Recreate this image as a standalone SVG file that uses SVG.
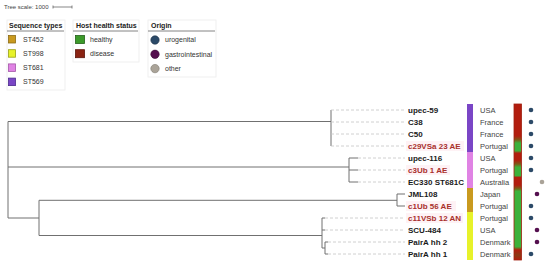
<svg xmlns="http://www.w3.org/2000/svg" width="550" height="265" viewBox="0 0 550 265">
<defs>
<style>
text{font-family:"Liberation Sans",Arial,sans-serif}
.ttl{font-size:7px;font-weight:bold;fill:#222}
.itm{font-size:7px;fill:#333}
.box{fill:#fff;stroke:#ececec;stroke-width:0.8}
.ul{stroke:#666;stroke-width:0.8}
.br{stroke:#707070;stroke-width:1;fill:none}
.ld{stroke:#c4c4c4;stroke-width:0.8;stroke-dasharray:3,2}
.lb{font-size:8px;font-weight:bold;fill:#1a1a1a}
.lr{font-size:8px;font-weight:bold;fill:#a8302c}
.hl{fill:#fef2f5}
.ct{font-size:7.5px;fill:#444}
.uro{fill:#2c4a68}
.gas{fill:#55104f}
.oth{fill:#aaa398}
</style>
<linearGradient id="hg" gradientUnits="userSpaceOnUse" x1="0" y1="104" x2="0" y2="260">
<stop offset="0" stop-color="#b21d0e"/>
<stop offset="0.205" stop-color="#b21d0e"/>
<stop offset="0.23" stop-color="#7c5a18"/>
<stop offset="0.25" stop-color="#3cb13a"/>
<stop offset="0.30" stop-color="#3cb13a"/>
<stop offset="0.315" stop-color="#b21d0e"/>
<stop offset="0.36" stop-color="#b21d0e"/>
<stop offset="0.385" stop-color="#7c5a18"/>
<stop offset="0.405" stop-color="#3cb13a"/>
<stop offset="0.46" stop-color="#3cb13a"/>
<stop offset="0.47" stop-color="#b21d0e"/>
<stop offset="0.52" stop-color="#b21d0e"/>
<stop offset="0.54" stop-color="#7c5a18"/>
<stop offset="0.56" stop-color="#3cb13a"/>
<stop offset="0.915" stop-color="#3cb13a"/>
<stop offset="0.935" stop-color="#b21d0e"/>
<stop offset="0.97" stop-color="#8a3a14"/>
<stop offset="1" stop-color="#b21d0e"/>
</linearGradient>
</defs>
<rect width="550" height="265" fill="#fff"/>

<g id="tree-scale">
<text x="4" y="8.8" style="font-size:6px;fill:#444">Tree scale: 1000</text>
<path d="M53 7H72M53 5.5V8.5M72 5.5V8.5" stroke="#555" stroke-width="0.7" fill="none"/>
</g>

<g id="legend-sequence-types">
<rect class="box" x="7" y="20" width="58" height="70"/>
<text class="ttl" x="9" y="27.5">Sequence types</text>
<line class="ul" x1="7" y1="31" x2="64" y2="31"/>
<rect x="8.5" y="35.5" width="7" height="7.5" fill="#c99a1f" stroke="#8d6c14" stroke-width="0.8"/>
<text class="itm" x="23" y="41.5">ST452</text>
<rect x="8.5" y="49.7" width="7" height="7.5" fill="#e7f22a" stroke="#9aa114" stroke-width="0.8"/>
<text class="itm" x="23" y="55.8">ST998</text>
<rect x="8.5" y="63.9" width="7" height="7.5" fill="#e083e4" stroke="#a356a8" stroke-width="0.8"/>
<text class="itm" x="23" y="70">ST681</text>
<rect x="8.5" y="78.1" width="7" height="7.5" fill="#7a46c6" stroke="#4c2b8e" stroke-width="0.8"/>
<text class="itm" x="23" y="84.2">ST569</text>
</g>

<g id="legend-host-health">
<rect class="box" x="73" y="20" width="66" height="42"/>
<text class="ttl" x="76" y="27.5">Host health status</text>
<line class="ul" x1="73" y1="31" x2="138" y2="31"/>
<rect x="75.5" y="35.5" width="9" height="8" fill="#3c9a2a" stroke="#24601a" stroke-width="0.8"/>
<text class="itm" x="90" y="41.5">healthy</text>
<rect x="75.5" y="49.7" width="9" height="8" fill="#8a2312" stroke="#5a140a" stroke-width="0.8"/>
<text class="itm" x="90" y="55.8">disease</text>
</g>

<g id="legend-origin">
<rect class="box" x="148" y="20" width="68" height="57"/>
<text class="ttl" x="151" y="27.5">Origin</text>
<line class="ul" x1="148" y1="31" x2="215" y2="31"/>
<circle cx="155" cy="40" r="4.2" class="uro" stroke="#1c3046" stroke-width="0.6"/>
<text class="itm" x="165" y="42.3">urogenital</text>
<circle cx="155" cy="54.3" r="4.2" class="gas" stroke="#380a34" stroke-width="0.6"/>
<text class="itm" x="165" y="56.6">gastrointestinal</text>
<circle cx="155" cy="68.6" r="4.2" class="oth" stroke="#7e786e" stroke-width="0.6"/>
<text class="itm" x="165" y="70.9">other</text>
</g>

<g id="connectors">
<path class="br" d="M8 121.5V218"/>
<path class="br" d="M8 121.5H331M331 110V146"/>
<path class="br" d="M8 167H349M349 158V182M349 158H358M349 170H358M349 182H358"/>
<path class="br" d="M8 218H39M39 200.3V235.5M39 200.3H397M397 194V206M397 194H405M397 206H405"/>
<path class="br" d="M39 235.5H322M322 218V248M322 218H325M322 230H325M322 248H325M325 242V254M325 242H328M325 254H328"/>
<path class="ld" d="M331 110H405M331 122H405M331 134H405M331 146H405M358 158H405M358 170H405M358 182H405M325 218H405M325 230H405M328 242H405M328 254H405"/>
</g>

<g id="leaf-labels">
<rect class="hl" x="406" y="141" width="58" height="10"/>
<rect class="hl" x="406" y="165" width="44" height="10"/>
<rect class="hl" x="406" y="201" width="50" height="10"/>
<rect class="hl" x="406" y="213" width="57" height="10"/>
<text class="lb" x="408" y="113">upec-59</text>
<text class="lb" x="408" y="125">C38</text>
<text class="lb" x="408" y="137">C50</text>
<text class="lr" x="408" y="149">c29VSa 23 AE</text>
<text class="lb" x="408" y="161">upec-116</text>
<text class="lr" x="408" y="173">c3Ub 1 AE</text>
<text class="lb" x="408" y="185">EC330 ST681C</text>
<text class="lb" x="408" y="197">JML108</text>
<text class="lr" x="408" y="209">c1Ub 56 AE</text>
<text class="lr" x="408" y="221">c11VSb 12 AN</text>
<text class="lb" x="408" y="233">SCU-484</text>
<text class="lb" x="408" y="245">PairA hh 2</text>
<text class="lb" x="408" y="257">PairA hh 1</text>
</g>

<g id="sequence-type-strip">
<rect x="467" y="104" width="6" height="48" fill="#7a46c6"/>
<rect x="467" y="152" width="6" height="36" fill="#e083e4"/>
<rect x="467" y="188" width="6" height="24" fill="#c99a1f"/>
<rect x="467" y="212" width="6" height="48" fill="#e7f22a"/>
</g>

<g id="countries">
<text class="ct" x="480" y="112.7">USA</text>
<text class="ct" x="480" y="124.7">France</text>
<text class="ct" x="480" y="136.7">France</text>
<text class="ct" x="480" y="148.7">Portugal</text>
<text class="ct" x="480" y="160.7">USA</text>
<text class="ct" x="480" y="172.7">Portugal</text>
<text class="ct" x="480" y="184.7">Australia</text>
<text class="ct" x="480" y="196.7">Japan</text>
<text class="ct" x="480" y="208.7">Portugal</text>
<text class="ct" x="480" y="220.7">Portugal</text>
<text class="ct" x="480" y="232.7">USA</text>
<text class="ct" x="480" y="244.7">Denmark</text>
<text class="ct" x="480" y="256.7">Denmark</text>
</g>

<g id="health-strip">
<rect x="514" y="104" width="7.5" height="156" fill="url(#hg)" stroke="#a0200f" stroke-width="0.8"/>
</g>

<g id="origin-dots">
<circle class="uro" cx="531" cy="110" r="2.3"/>
<circle class="uro" cx="531" cy="122" r="2.3"/>
<circle class="uro" cx="531" cy="134" r="2.3"/>
<circle class="uro" cx="531" cy="146" r="2.3"/>
<circle class="uro" cx="531" cy="158" r="2.3"/>
<circle class="uro" cx="531" cy="170" r="2.3"/>
<circle class="oth" cx="542" cy="182" r="2.3"/>
<circle class="gas" cx="537" cy="194" r="2.3"/>
<circle class="uro" cx="531" cy="206" r="2.3"/>
<circle class="uro" cx="531" cy="218" r="2.3"/>
<circle class="gas" cx="537" cy="230" r="2.3"/>
<circle class="gas" cx="537" cy="242" r="2.3"/>
<circle class="uro" cx="531" cy="254" r="2.3"/>
</g>
</svg>
